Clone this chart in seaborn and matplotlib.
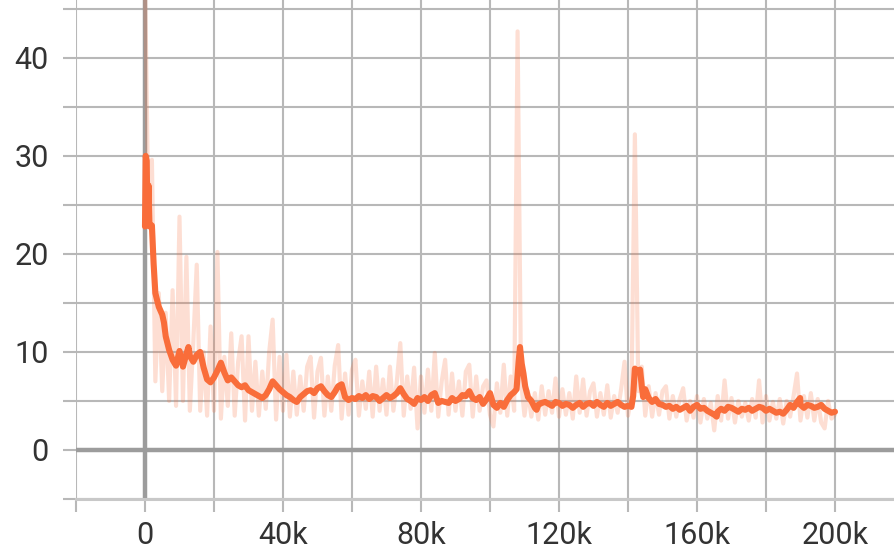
import numpy as np
import matplotlib
matplotlib.use("Agg")
import matplotlib.pyplot as plt
import seaborn as sns
from matplotlib.ticker import MultipleLocator, FuncFormatter

# raw loss, one value per 1k steps (0 .. 200k)
raw_steps_k = list(range(0, 201))
raw_vals = [
    48, 24, 29.6, 7, 16, 6, 14, 5, 16.3, 4.5,
    23.8, 5, 19.7, 4, 11, 18.9, 4, 10, 3.5, 12.6,
    4, 20.2, 3.2, 9.5, 4.5, 11.9, 3.5, 9, 11.6, 3,
    11.6, 4, 9, 3.5, 8, 4.2, 10, 13.3, 3.1, 9.5,
    4, 9.7, 3.4, 8, 3.6, 7.5, 4, 8.5, 9.5, 3.3,
    8, 9.4, 3.5, 7.5, 4, 8.6, 10.7, 3.2, 7.8, 3.6,
    8.2, 9.2, 3.5, 7, 4.2, 8, 3.4, 8.5, 4, 7.2,
    3.6, 8.5, 4, 7, 10.9, 3.5, 7.5, 4.2, 8.4, 2.2,
    7.5, 3.8, 8.2, 4, 9.9, 3.4, 7, 9.2, 3.6, 7.8,
    4, 7, 3.5, 8, 8.7, 3.4, 7.5, 4, 6.5, 7.1,
    3.6, 2.4, 6.8, 3.8, 8.7, 3.5, 7.5, 4, 42.7, 7,
    3.5, 6, 3.4, 5.8, 3.1, 6.5, 3.6, 6, 3.8, 7.3,
    3.4, 6.2, 3.6, 5.8, 3.2, 7.5, 3.8, 7.2, 3.5, 6,
    6.8, 3.4, 5.8, 3.6, 6.6, 3.3, 5.5, 3.8, 6.2, 9.0,
    3.5, 5.5, 32.2, 6, 8.5, 3.5, 6.5, 3.4, 5.8, 3.6,
    6, 6.5, 3.2, 5.5, 3.4, 5.2, 6.3, 3, 5, 3.3,
    5.5, 2.8, 5.2, 3.2, 4.8, 2, 5.5, 3, 7.1, 3.2,
    5.3, 2.8, 5, 3.4, 4.8, 3, 5.2, 3.3, 7.1, 2.8,
    5.5, 3, 4.9, 3.2, 5.2, 2.7, 5, 3.4, 5.5, 7.8,
    3, 5.5, 3.3, 5.8, 3, 5.2, 2.8, 2.2, 5, 3.2,
    3.6,
]

# smoothed curve
smooth_steps_k = ([0, 0.2, 0.5, 0.7, 1.0, 1.3, 2.0, 2.5, 3.0, 3.5,
                   4, 5, 5.5, 6, 7, 8, 9, 10, 11, 12, 12.6]
                  + list(range(13, 108))
                  + [107.7, 108.3, 108.7, 109.2, 109.7, 110.2, 111, 112, 113, 113.5]
                  + list(range(114, 142))
                  + [141.5, 142, 143, 143.5, 144, 144.4]
                  + list(range(145, 166)) + [165.7]
                  + list(range(166, 190)) + [189.9]
                  + list(range(190, 201)))
smooth_vals = [
    22.8, 30, 29.5, 23, 27, 22.8, 22.9, 19, 16.0, 15.3,
    14.6, 13.8, 13, 11.6, 10.2, 9.2, 8.6, 10.1, 8.5, 9.8, 10.5,
    # 13 .. 21
    9.6, 9.0, 9.7, 10.0, 8.4, 7.2, 6.9, 7.4, 8.1,
    # 22 .. 101
    8.9, 7.9, 7.1, 7.4, 7.0, 6.6, 6.4, 6.6, 6.1, 5.9,
    5.7, 5.5, 5.3, 5.6, 6.2, 7.0, 6.6, 6.2, 5.9, 5.6,
    5.4, 5.1, 4.9, 5.4, 5.7, 6.0, 6.1, 5.8, 6.3, 6.5,
    6.0, 5.6, 5.4, 5.9, 6.5, 6.7, 5.4, 5.1, 5.3, 5.2,
    5.5, 5.3, 5.6, 5.2, 5.5, 5.4, 5.0, 5.3, 5.6, 5.3,
    5.5, 5.8, 6.3, 5.7, 5.2, 5.0, 4.7, 5.3, 5.1, 5.4,
    5.0, 5.6, 5.8, 4.8, 5.0, 4.9, 4.8, 5.3, 5.0, 5.2,
    5.6, 5.5, 6.0, 5.3, 5.1, 5.4, 4.7, 5.2, 5.8, 4.6,
    # 102 .. 107
    4.3, 4.8, 4.4, 5.1, 5.6, 5.9,
    # spike near 108k
    6.2, 9.0, 10.5, 8.8, 7.8, 6.5, 5.4, 5.0, 4.3, 4.1,
    # 114 .. 141
    4.6, 4.8, 4.9, 4.7, 4.5, 4.9, 4.8, 4.5, 4.7, 4.6,
    4.3, 4.6, 4.8, 4.4, 4.7, 4.8, 4.5, 4.9, 4.6, 4.4,
    4.8, 4.5, 4.7, 4.9, 4.6, 4.4, 4.5, 4.4,
    # spike near 142k
    5.5, 8.3, 8.0, 8.2, 6.5, 5.4,
    # 145 .. 165
    6.2, 5.3, 4.9, 5.2, 4.7, 4.6, 4.4, 4.5, 4.2, 4.4,
    4.1, 4.3, 4.5, 4.0, 4.4, 4.6, 4.2, 4.3, 4.0, 3.8, 3.6,
    3.4,
    # 166 .. 189
    3.9, 4.2, 4.0, 4.4, 4.3, 4.1, 3.9, 4.2, 4.1, 4.3,
    4.0, 4.2, 4.4, 4.3, 4.0, 4.2, 4.0, 3.8, 3.9, 3.7,
    4.1, 4.6, 4.3, 4.9,
    5.3,
    # 190 .. 200
    4.6, 4.3, 4.6, 4.5, 4.3, 4.4, 4.6, 4.2, 4.0, 3.8, 3.9,
]
assert len(raw_steps_k) == len(raw_vals)
assert len(smooth_steps_k) == len(smooth_vals)

raw_steps = np.array(raw_steps_k) * 1000
smooth_steps = np.array(smooth_steps_k) * 1000

ORANGE = "#f96d3a"
GRID = "#b8b8b8"
ZERO = "#9c9c9c"
TEXT = "#333333"

sns.set_style("white")
plt.rcParams["font.family"] = ["Roboto", "DejaVu Sans"]

W, H = 895, 557
fig = plt.figure(figsize=(W / 100, H / 100), dpi=100)
ax = fig.add_axes([76 / W, 58 / H, 1 - 76 / W, 1 - 58 / H])

x_min, x_max = -20000, 217400
y_min, y_max = -5, 45.9

sns.lineplot(x=raw_steps, y=raw_vals, ax=ax, color=ORANGE, alpha=0.22,
             lw=3.0, zorder=2)
sns.lineplot(x=smooth_steps, y=smooth_vals, ax=ax, color=ORANGE, lw=4.4,
             zorder=3)

ax.set_xlim(x_min, x_max)
ax.set_ylim(y_min, y_max)

ax.xaxis.set_major_locator(MultipleLocator(40000))
ax.xaxis.set_minor_locator(MultipleLocator(20000))
ax.yaxis.set_major_locator(MultipleLocator(10))
ax.yaxis.set_minor_locator(MultipleLocator(5))
ax.xaxis.set_major_formatter(FuncFormatter(lambda v, p: "0" if v == 0 else f"{int(v / 1000)}k"))
ax.yaxis.set_major_formatter(FuncFormatter(lambda v, p: f"{int(v)}"))

ax.grid(which="both", color=GRID, lw=1.5, zorder=0)
ax.set_axisbelow(True)
# darker zero lines
ax.axhline(0, color=ZERO, lw=3.2, zorder=1)
ax.axvline(0, color=ZERO, lw=3.2, zorder=1)

ax.tick_params(axis="both", which="both", direction="out", width=1.5,
               color=GRID, labelsize=22, labelcolor=TEXT)
ax.tick_params(axis="y", which="both", length=9.5, pad=10, left=True)
ax.tick_params(axis="x", which="both", length=9.5, pad=6, bottom=True)
ax.tick_params(axis="x", which="minor", labelbottom=False)

for sp in ax.spines.values():
    sp.set_visible(False)
ax.spines["bottom"].set_visible(True)
ax.spines["bottom"].set_color("#c8c8c8")
ax.spines["bottom"].set_linewidth(2.2)
ax.set_xlabel("")
ax.set_ylabel("")

fig.savefig("out.png", dpi=100)
